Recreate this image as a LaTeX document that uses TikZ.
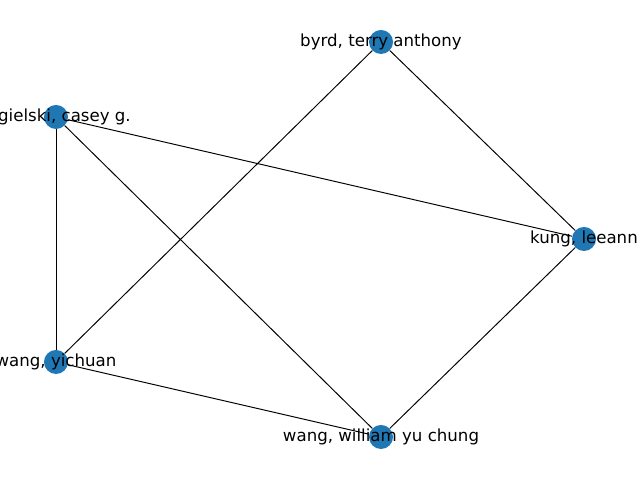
\documentclass[tikz,border=0pt]{standalone}
\usepackage{fontspec}
\setmainfont{DejaVu Sans}
\usepackage{tikz}
\usetikzlibrary{positioning}
\definecolor{nodeblue}{HTML}{1F77B4}

\begin{document}
\begin{tikzpicture}[x=0.01in, y=0.01in,
    vertex/.style={circle, fill=nodeblue, minimum size=0.24in, inner sep=0pt},
    namelabel/.style={font=\fontsize{12}{14}\selectfont, inner sep=0pt},
    link/.style={black, line width=0.7pt},
  ]
  \useasboundingbox (0,0) rectangle (640,480);
  \clip (0,0) rectangle (640,480);
  % nodes
  \node[vertex] (byrd) at (381,438) {};
  \node[vertex] (gielski) at (56,363) {};
  \node[vertex] (kung) at (584,241) {};
  \node[vertex] (yichuan) at (56,118) {};
  \node[vertex] (william) at (381,43) {};
  % edges
  \foreach \a/\b in {byrd/kung, byrd/yichuan, gielski/kung, gielski/yichuan,
      gielski/william, yichuan/william, kung/william} {
    \draw[link] (\a) -- (\b);
  }
  % labels
  \node[namelabel] (byrd-l) at (byrd) {byrd, terry anthony};
  \node[namelabel, anchor=east] (gielski-l) at ([xshift=0.75in]gielski.center) {gielski, casey g.};
  \node[namelabel] (kung-l) at (kung) {kung, leeann};
  \node[namelabel] (yichuan-l) at (yichuan) {wang, yichuan};
  \node[namelabel] (william-l) at (william) {wang, william yu chung};
\end{tikzpicture}
\end{document}
